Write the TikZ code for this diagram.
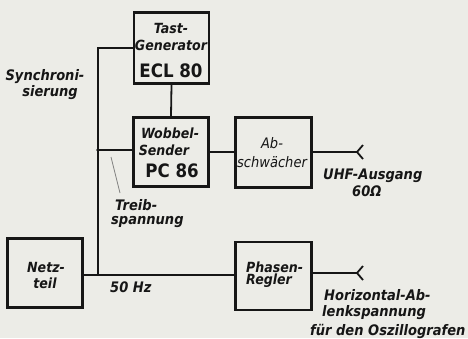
\documentclass[tikz,border=0pt]{standalone}
\usepackage{fontspec}
\newfontfamily\lblnarrow[FakeStretch=0.9]{DejaVu Sans}
\newcommand{\lbl}{\lblnarrow\bfseries\itshape\fontsize{14.5}{17}\selectfont}
\newcommand{\boxlbl}{\lblnarrow\bfseries\itshape\fontsize{14}{17}\selectfont}
\newcommand{\lbllight}{\lblnarrow\itshape\fontsize{14.5}{17}\selectfont}
\newcommand{\tubefont}{\lblnarrow\bfseries\fontsize{18.5}{20}\selectfont}
\definecolor{ink}{HTML}{161616}
\definecolor{paper}{HTML}{ECECE7}
\begin{document}
\begin{tikzpicture}[x=1pt,y=-1pt,
  blk/.style={draw=ink,line width=2.8pt,minimum width=75pt,anchor=center,inner sep=0pt,align=center,text=ink},
  wire/.style={draw=ink,line width=1.8pt},
  txt/.style={text=ink,inner sep=0pt,font=\lbl},
  btxt/.style={text=ink,inner sep=0pt,font=\boxlbl}]
\fill[paper] (0,0) rectangle (468,338);
\useasboundingbox (0,0) rectangle (468,338);
% boxes
\node[blk,minimum height=71pt] (tg) at (171.5,48) {};
\node[blk,minimum height=69pt] (ws) at (171,152) {};
\node[blk,minimum height=70pt,minimum width=76pt] (ab) at (273.5,152.5) {};
\node[blk,minimum height=68pt,minimum width=76pt] (ph) at (273.5,276) {};
\node[blk,minimum height=69pt,minimum width=75pt] (nt) at (45,273) {};
% box texts
\node[btxt] (t1) at (171,28) {Tast-};
\node[btxt] (t2) at (171,45) {Generator};
\node[btxt,font=\tubefont] (t3) at (171,71) {ECL 80};
\node[btxt] (w1) at (170,133) {Wobbel-};
\node[btxt] (w2) at (164,150) {Sender};
\node[btxt,font=\tubefont] (w3) at (172,171) {PC 86};
\node[btxt,font=\lbllight] (a1) at (272,143) {Ab-};
\node[btxt,font=\lbllight] (a2) at (272,162) {schwächer};
\node[btxt,anchor=west] (p1) at (246,267) {Phasen-};
\node[btxt,anchor=west] (p2) at (246,281) {Regler};
\node[btxt] (n1) at (46,267) {Netz-};
\node[btxt] (n2) at (45,283) {teil};
% coordinates
\coordinate (top) at (98,48);
\coordinate (mid) at (98,150);
\coordinate (bot) at (98,275);
\coordinate (o1) at (357,152);
\coordinate (o2) at (357,273);
% wires
\draw[wire] (tg.west |- top) -- (top) -- (bot);
\draw[wire] (mid) -- (ws.west |- mid);
\fill[ink] (mid) circle (1.8pt);
\draw[wire] (tg.south) -- (ws.north);
\draw[wire] (ws.east |- o1) -- (ab.west |- o1);
\draw[wire] (nt.east |- bot) -- (ph.west |- bot);
\draw[wire] (ab.east |- o1) -- (o1);
\draw[wire] (ph.east |- o2) -- (o2);
\draw[wire] (o1) -- ++(6,-7) (o1) -- ++(6,7);
\draw[wire] (o2) -- ++(6,-7) (o2) -- ++(6,7);
% leader
\coordinate (ls) at (111,157);
\coordinate (le) at (120,193);
\draw[draw=ink!55,line width=0.8pt] (ls) -- (le);
% labels
\node[txt] (sy1) at (45,77) {Synchroni-};
\node[txt] (sy2) at (50,93) {sierung};
\node[txt,anchor=west] (tr1) at (115,205) {Treib-};
\node[txt,anchor=west] (tr2) at (111,222) {spannung};
\node[txt,anchor=west] (hz) at (110,287) {50 Hz};
\node[txt,anchor=west] (u1) at (323,176) {UHF-Ausgang};
\node[txt,anchor=west] (u2) at (352,191) {60Ω};
\node[txt,anchor=west] (h1) at (324,295) {Horizontal-Ab-};
\node[txt,anchor=west] (h2) at (322,313) {lenkspannung};
\node[txt,anchor=west] (h3) at (310,331) {für den Oszillografen};
\end{tikzpicture}
\end{document}
